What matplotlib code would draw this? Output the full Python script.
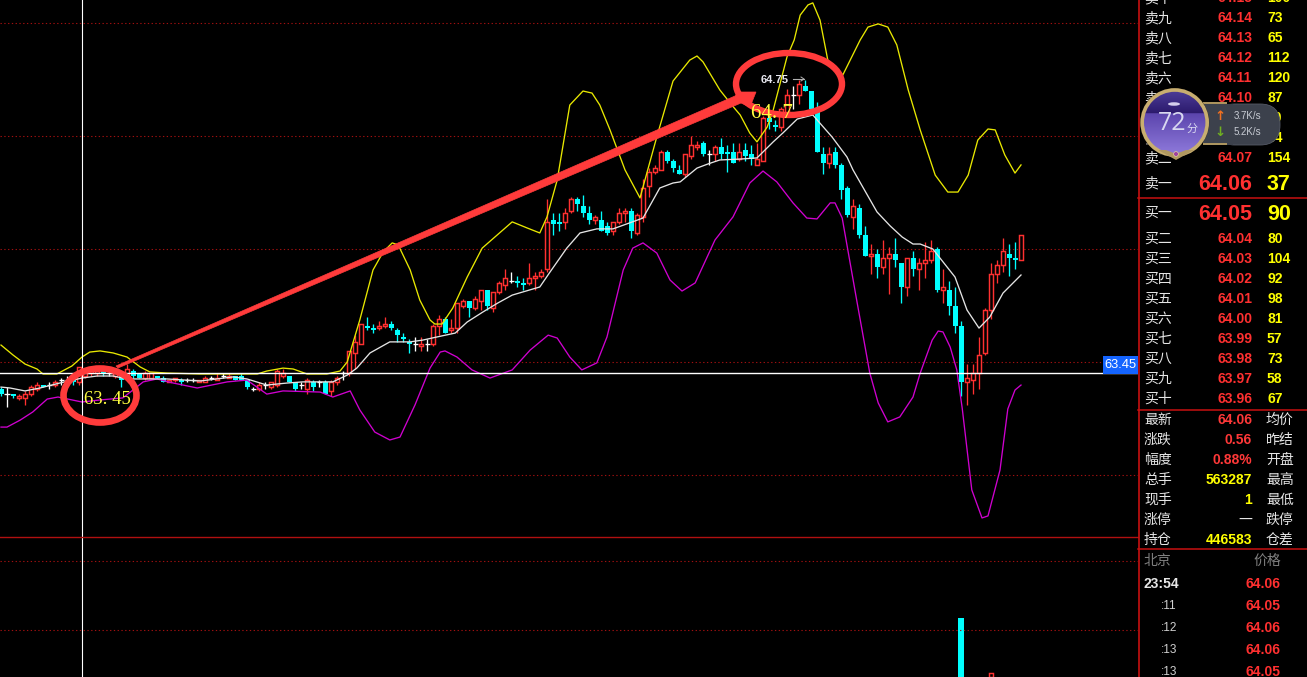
import numpy as np
import matplotlib
matplotlib.use("Agg")
import matplotlib.pyplot as plt
from matplotlib.patches import Ellipse, Polygon, FancyBboxPatch, Circle, Rectangle

opens = [63.38,63.36,63.36,63.34,63.34,63.36,63.38,63.40,63.40,63.40,
 63.42,63.42,63.43,63.41,63.44,63.45,63.45,63.46,63.45,63.44,
 63.44,63.44,63.46,63.45,63.43,63.43,63.44,63.43,63.41,63.42,
 63.42,63.42,63.42,63.41,63.41,63.43,63.42,63.44,63.43,63.44,
 63.44,63.42,63.38,63.38,63.40,63.39,63.40,63.44,63.44,63.41,
 63.40,63.38,63.41,63.41,63.41,63.37,63.41,63.45,63.45,63.54,
 63.58,63.66,63.65,63.65,63.66,63.67,63.64,63.61,63.59,63.58,
 63.57,63.58,63.58,63.66,63.69,63.64,63.65,63.75,63.77,63.74,
 63.77,63.82,63.74,63.81,63.84,63.86,63.86,63.85,63.85,63.87,
 63.88,63.91,64.13,64.12,64.12,64.17,64.22,64.19,64.16,64.13,
 64.13,64.10,64.08,64.12,64.16,64.17,64.07,64.14,64.28,64.34,
 64.35,64.43,64.39,64.35,64.33,64.41,64.45,64.47,64.42,64.42,
 64.45,64.43,64.43,64.40,64.44,64.42,64.37,64.39,64.58,64.55,
 64.54,64.60,64.68,64.68,64.72,64.70,64.62,64.42,64.38,64.43,
 64.37,64.27,64.14,64.18,64.06,63.97,63.98,63.92,63.96,63.98,
 63.94,63.83,63.96,63.91,63.94,63.95,64.00,63.82,63.82,63.75,
 63.66,63.41,63.42,63.45,63.54,63.73,63.89,63.93,63.98,63.96,63.95]
highs = [63.39,63.39,63.36,63.36,63.37,63.40,63.41,63.40,63.41,63.42,
 63.43,63.44,63.44,63.48,63.47,63.47,63.47,63.47,63.46,63.46,
 63.45,63.49,63.47,63.45,63.46,63.45,63.44,63.44,63.42,63.43,
 63.43,63.43,63.43,63.42,63.44,63.44,63.45,63.45,63.45,63.44,
 63.45,63.42,63.39,63.41,63.41,63.41,63.47,63.47,63.44,63.41,
 63.41,63.43,63.42,63.42,63.42,63.42,63.44,63.46,63.55,63.62,
 63.67,63.70,63.67,63.68,63.70,63.68,63.65,63.63,63.60,63.61,
 63.61,63.60,63.67,63.71,63.70,63.69,63.76,63.78,63.77,63.79,
 63.82,63.82,63.81,63.86,63.91,63.90,63.88,63.87,63.94,63.90,
 63.91,64.22,64.16,64.16,64.18,64.23,64.23,64.24,64.19,64.15,
 64.17,64.12,64.12,64.18,64.18,64.18,64.16,64.31,64.36,64.37,
 64.44,64.44,64.40,64.37,64.42,64.50,64.48,64.48,64.44,64.46,
 64.49,64.46,64.47,64.47,64.47,64.46,64.47,64.59,64.60,64.57,
 64.63,64.71,64.72,64.75,64.75,64.70,64.65,64.45,64.45,64.45,
 64.38,64.28,64.22,64.20,64.10,64.02,64.00,64.04,64.01,64.05,
 63.94,63.96,63.99,63.96,64.03,64.04,64.01,63.91,63.86,63.83,
 63.68,63.49,63.49,63.61,63.74,63.94,63.95,64.05,64.02,64.03,64.06]
lows = [63.35,63.30,63.34,63.33,63.31,63.35,63.37,63.39,63.38,63.39,
 63.40,63.41,63.40,63.40,63.43,63.44,63.44,63.44,63.44,63.43,
 63.39,63.44,63.43,63.43,63.42,63.43,63.43,63.41,63.41,63.41,
 63.40,63.41,63.41,63.41,63.41,63.42,63.42,63.43,63.43,63.42,
 63.42,63.38,63.37,63.37,63.38,63.38,63.39,63.43,63.41,63.37,
 63.38,63.36,63.37,63.39,63.36,63.35,63.40,63.42,63.44,63.47,
 63.58,63.64,63.63,63.64,63.65,63.64,63.59,63.59,63.54,63.55,
 63.55,63.55,63.57,63.62,63.63,63.63,63.63,63.74,63.70,63.73,
 63.73,63.73,63.72,63.80,63.82,63.85,63.83,63.82,63.84,63.82,
 63.87,63.90,64.06,64.08,64.09,64.16,64.17,64.14,64.11,64.11,
 64.08,64.06,64.06,64.11,64.12,64.05,64.06,64.12,64.23,64.33,
 64.35,64.38,64.34,64.33,64.32,64.40,64.44,64.41,64.37,64.39,
 64.40,64.34,64.38,64.39,64.39,64.37,64.37,64.39,64.53,64.52,
 64.52,64.60,64.62,64.64,64.70,64.62,64.43,64.33,64.36,64.36,
 64.22,64.14,64.09,64.05,63.97,63.89,63.87,63.89,63.80,63.92,
 63.76,63.79,63.88,63.82,63.87,63.94,63.81,63.76,63.71,63.63,
 63.35,63.31,63.36,63.38,63.53,63.69,63.85,63.90,63.88,63.91,63.95]
closes = [63.36,63.36,63.35,63.35,63.36,63.39,63.40,63.39,63.40,63.41,
 63.42,63.42,63.41,63.48,63.46,63.46,63.46,63.45,63.45,63.45,
 63.42,63.47,63.44,63.43,63.45,63.45,63.43,63.41,63.42,63.43,
 63.41,63.42,63.42,63.42,63.43,63.43,63.43,63.44,63.44,63.42,
 63.42,63.39,63.38,63.40,63.40,63.41,63.46,63.45,63.41,63.38,
 63.40,63.42,63.39,63.41,63.36,63.41,63.43,63.45,63.55,63.59,
 63.67,63.65,63.64,63.66,63.67,63.65,63.62,63.60,63.58,63.58,
 63.58,63.58,63.66,63.69,63.63,63.65,63.76,63.77,63.74,63.78,
 63.82,63.75,63.81,63.85,63.87,63.86,63.85,63.84,63.87,63.88,
 63.90,64.12,64.11,64.11,64.16,64.22,64.20,64.16,64.13,64.14,
 64.08,64.07,64.12,64.16,64.17,64.08,64.15,64.27,64.34,64.36,
 64.43,64.39,64.36,64.33,64.42,64.46,64.46,64.42,64.42,64.45,
 64.42,64.42,64.38,64.43,64.41,64.40,64.40,64.58,64.56,64.54,
 64.62,64.68,64.68,64.73,64.70,64.62,64.43,64.38,64.42,64.37,
 64.26,64.15,64.19,64.06,63.97,63.98,63.92,63.96,63.98,63.95,
 63.83,63.96,63.91,63.94,63.95,63.99,63.82,63.83,63.75,63.66,
 63.41,63.43,63.45,63.53,63.73,63.89,63.93,63.99,63.96,63.95,64.06]

upper_idx = [0,2,4,6,7,9.3,11.8,13.5,14.8,16.5,18.7,21,23.2,24.8,27.7,33.2,42.7,44.3,47,48.7,51,54.3,56.5,57.7,
 59.8,62,63.7,65.2,66.2,68.2,69.8,71.5,72.3,73.5,75.3,77.7,80.2,82.7,85.2,87.7,89.8,91,92.7,94.8,97,98.5,99.8,
 101.5,104,106.5,109.3,112,114.8,116,117,119.8,121.8,123.2,124.8,126,127.7,128.7,131,132.2,133.2,134.5,135.3,
 136.5,137.8,140.3,143.2,144.5,146.2,147.8,149.3,151.2,153.2,155.7,157.8,159.5,161.2,162.8,164.5,165.7,167.3,169,170]
upper_val = [63.575,63.531,63.491,63.469,63.447,63.447,63.482,63.522,63.544,63.549,63.540,63.522,63.478,63.456,63.451,63.447,63.447,63.460,63.473,63.469,63.447,63.447,63.460,63.50,
 63.686,63.907,63.987,64.027,64.018,63.907,63.774,63.686,63.668,63.668,63.739,63.876,64.004,64.062,64.120,64.093,64.071,64.142,64.305,64.637,64.699,64.690,64.637,
 64.527,64.350,64.226,64.496,64.743,64.836,64.854,64.828,64.704,64.637,64.593,64.513,64.474,64.540,64.615,64.850,64.925,65.035,65.080,65.089,
 65.013,64.836,64.770,64.925,64.982,64.996,64.982,64.903,64.704,64.527,64.327,64.252,64.252,64.327,64.482,64.531,64.527,64.416,64.336,64.372]

mid_idx = [0,1.5,4,6.5,9.8,13.5,16,18.7,21,27.7,33.2,38.7,41,44.3,47.7,50.3,55.3,57.7,59.3,61.5,64.8,68.2,70.3,72.7,75.7,77.7,80.3,82.8,85.2,89.8,91.5,94.3,96.5,99.3,102,104.3,107,109.8,112,113.2,116,117.8,119.8,123.2,126,128.7,130.3,132.7,135.3,138.5,141,142,146,148.2,150.2,152,153.2,155.3,159,161,163,164.8,167,170]
mid_val = [63.389,63.385,63.372,63.385,63.407,63.429,63.438,63.438,63.425,63.425,63.416,63.434,63.425,63.398,63.407,63.412,63.412,63.442,63.473,63.540,63.589,63.589,63.597,63.611,63.628,63.677,63.721,63.761,63.796,63.832,63.898,64.004,64.071,64.089,64.089,64.111,64.137,64.270,64.292,64.297,64.358,64.376,64.394,64.398,64.403,64.474,64.513,64.575,64.593,64.496,64.407,64.350,64.164,64.102,64.053,64.022,64.022,64.000,63.876,63.730,63.650,63.699,63.805,63.885]

lower_idx = [0,1,3.2,5.3,7.7,9.5,13.5,16.5,20.3,22,23.7,26,28.7,32.7,37.7,41,44.3,47,53.2,55.3,58.2,59.8,62.3,64.8,66.5,69,71.5,73.2,74,76,78.5,81.5,85.2,88.2,91.2,92.7,94.8,96.8,99.3,101,103.7,105.3,107,109.3,111.5,113.5,115.7,119,122,124.8,127,129.3,132,134.3,136,138.2,139,140.2,142.7,144.8,146.2,147.8,149.8,152,153.2,155.2,156.2,157,158.2,159.3,160.2,161.8,163.5,164.5,166.5,167.8,169,170]
lower_val = [63.212,63.212,63.243,63.279,63.336,63.345,63.323,63.332,63.341,63.376,63.412,63.425,63.407,63.385,63.412,63.420,63.358,63.372,63.367,63.345,63.372,63.288,63.190,63.155,63.168,63.310,63.473,63.544,63.549,63.522,63.465,63.429,63.465,63.553,63.619,63.606,63.522,63.465,63.496,63.611,63.907,64.004,64.027,63.982,63.863,63.814,63.850,64.040,64.142,64.292,64.345,64.297,64.204,64.137,64.133,64.204,64.204,64.137,63.761,63.451,63.319,63.235,63.257,63.345,63.451,63.597,63.637,63.633,63.566,63.465,63.296,62.934,62.810,62.819,63.022,63.292,63.376,63.398]

grid_prices = [65.0, 64.5, 64.0, 63.5, 63.0]
last_price = 63.45
cross_idx = 13.5
vol_idx = [160, 165]
vol_val = [5900, 400]
vol_up = [False, True]
vol_grid = [11600, 4700]

sell_labels = ["卖十","卖九","卖八","卖七","卖六","卖五","卖四","卖三","卖二"]
sell_prices = ["64.15","64.14","64.13","64.12","64.11","64.10","64.09","64.08","64.07"]
sell_vols = ["100","73","65","112","120","87","50","94","154"]
buy_labels = ["买二","买三","买四","买五","买六","买七","买八","买九","买十"]
buy_prices = ["64.04","64.03","64.02","64.01","64.00","63.99","63.98","63.97","63.96"]
buy_vols = ["80","104","92","98","81","57","73","58","67"]
stat_labels = ["最新","涨跌","幅度","总手","现手","涨停","持仓"]
stat_values = ["64.06","0.56","0.88%","563287","1","一","446583"]
stat_colors = ["#FF3838","#FF3838","#FF3838","#FFFF00","#FFFF00","#E6E6E6","#FFFF00"]
stat_right = ["均价","昨结","开盘","最高","最低","跌停","仓差"]
tick_times = ["23:54",":11",":12",":13",":13"]
tick_prices = ["64.06","64.05","64.06","64.06","64.05"]

RED, CYAN, BG = "#FF3030", "#00FFFF", "#000000"
GRID = "#A01010"
W, H = 1307, 677
CJK = ["Noto Sans CJK SC", "DejaVu Sans"]
NUM = "Liberation Sans"

fig = plt.figure(figsize=(W/100, H/100), dpi=100, facecolor=BG)

# price panel: 226 px per price unit, 63.50 at pixel row 362, one candle every 6 px
ax = fig.add_axes([0, 0, 1138/W, 1], facecolor=BG, zorder=1)
ax.set_xlim(-1/6, 1137/6)
ax.set_ylim(63.5 - 315/226, 63.5 + 362/226)
ax.axis("off")

o, h, l, c = map(np.array, (opens, highs, lows, closes))
idx = np.arange(len(o))
up, down, flat = c > o, c < o, c == o
for p in grid_prices:
    ax.axhline(p, color=GRID, lw=0.8, ls=(0, (1.2, 2.2)), zorder=1)

lw1 = 0.95
ax.vlines(idx[up], l[up], h[up], color=RED, lw=lw1, zorder=2)
ax.vlines(idx[down], l[down], h[down], color=CYAN, lw=lw1, zorder=2)
ax.vlines(idx[flat], l[flat], h[flat], color="white", lw=lw1, zorder=2)
ax.hlines(c[flat], idx[flat]-2.5/6, idx[flat]+2.5/6, color="white", lw=lw1, zorder=2)
ax.bar(idx[up], (c-o)[up], bottom=o[up], width=4/6, facecolor=BG, edgecolor=RED, linewidth=1.05, zorder=3)
ax.bar(idx[down], (c-o)[down], bottom=o[down], width=5/6, facecolor=CYAN, edgecolor="none", linewidth=0, zorder=3)

ax.plot(upper_idx, upper_val, color="#E8E800", lw=0.95, zorder=4)
ax.plot(lower_idx, lower_val, color="#D000D0", lw=0.95, zorder=4)
ax.plot(mid_idx, mid_val, color="#E4E4E4", lw=0.95, zorder=4)
ax.axhline(last_price, color="white", lw=1.0, zorder=5)
ax.axvline(cross_idx, color="white", lw=0.8, zorder=5)

# volume panel, bottom strip of the chart
vax = fig.add_axes([0, 0, 1138/W, 140/H], facecolor="none", zorder=1.5)
vax.set_xlim(-1/6, 1137/6)
vax.set_ylim(0, 14000)
vax.axis("off")
for v in vol_grid:
    vax.axhline(v, color=GRID, lw=0.8, ls=(0, (1.2, 2.2)))
for i, v, u in zip(vol_idx, vol_val, vol_up):
    if u:
        vax.bar(i, v, width=4/6, facecolor=BG, edgecolor=RED, linewidth=1.05)
    else:
        vax.bar(i, v, width=5/6, facecolor=CYAN, edgecolor="none", linewidth=0)

# overlay in pixel coordinates: annotations, frame lines and quote panel
ui = fig.add_axes([0, 0, 1, 1], facecolor="none", zorder=3)
ui.set_xlim(0, W)
ui.set_ylim(H, 0)
ui.axis("off")

ui.plot([0, 1138], [537, 537], color="#B01010", lw=1.0)
ui.plot([1138.5, 1138.5], [0, H], color="#C81010", lw=1.2)
for y in (198, 410, 549):
    ui.plot([1138, W], [y, y], color="#C81010", lw=1.1)

ui.add_patch(Polygon([(116,366),(735,96),(738,92),(756,92),(750,107),(741,103),(118,368)], closed=True,
                     facecolor="#FF3B3B", edgecolor="#FF3B3B", lw=0.5, zorder=6))
ui.add_patch(Ellipse((100,395.5), 73, 54, fill=False, edgecolor="#FF3B3B", lw=4.8, zorder=6))
ui.add_patch(Ellipse((789,84), 106, 62, fill=False, edgecolor="#FF3B3B", lw=4.6, zorder=6))
ui.text(84, 399, "63. 45", family="Liberation Serif", fontsize=13.5, color="#FFFF40", va="center", ha="left", zorder=7)
ui.text(751, 114, "64. 7", family="Liberation Serif", fontsize=15, color="#FFFF40", va="center", ha="left", zorder=7)
ui.text(761, 80, "64.75", family=NUM, fontweight="bold", fontsize=8, color="#E8E8F0", va="center", ha="left", zorder=7)
ui.plot([793, 804], [79, 79], color="#B0B0B0", lw=0.8, zorder=7)
ui.plot([801, 804, 801], [77, 79, 81], color="#B0B0B0", lw=0.7, zorder=7)

# blue last-price tag
ui.add_patch(Rectangle((1103, 356), 35, 18, facecolor="#1464FF", edgecolor="none", zorder=7))
ui.text(1120.5, 365.5, "63.45", family=NUM, fontsize=9.3, color="white", ha="center", va="center", zorder=8)

# quote panel
def label(x, y, s, color="#E6E6E6", size=10):
    ui.text(x, y, s, family=CJK, fontsize=size, color=color, ha="left", va="center", zorder=4)
def num(x, y, s, color, size=10, ha="right"):
    ui.text(x, y, s, family=NUM, fontweight="bold", fontsize=size, color=color, ha=ha, va="center", zorder=4)

sell_rows = [-2, 18, 38, 58, 78, 98, 118, 138, 158]
for y, a, b, d in zip(sell_rows, sell_labels, sell_prices, sell_vols):
    label(1144, y, a); num(1252, y, b, RED); num(1267, y, d, "#FFFF00", ha="left")
label(1144, 183, "卖一"); num(1252, 184, "64.06", RED, 15.5); num(1267, 184, "37", "#FFFF00", 15.5, "left")
label(1144, 213, "买一"); num(1252, 214, "64.05", RED, 15.5); num(1267, 214, "90", "#FFFF00", 15.5, "left")
buy_rows = [239, 259, 279, 299, 319, 339, 359, 379, 399]
for y, a, b, d in zip(buy_rows, buy_labels, buy_prices, buy_vols):
    label(1144, y, a); num(1252, y, b, RED); num(1267, y, d, "#FFFF00", ha="left")
stat_rows = [420, 440, 460, 480, 500, 520, 540]
for y, a, b, col, d in zip(stat_rows, stat_labels, stat_values, stat_colors, stat_right):
    label(1144, y, a); label(1266, y, d)
    if b == "一":
        ui.text(1252, y, b, family=CJK, fontsize=10, color=col, ha="right", va="center", zorder=4)
    else:
        num(1252, y, b, col)
label(1144, 561, "北京", "#808080"); label(1253, 561, "价格", "#808080")
tick_rows = [584, 606, 628, 650, 672]
for k, (y, t, p) in enumerate(zip(tick_rows, tick_times, tick_prices)):
    if k == 0:
        num(1144, y, t, "#E6E6E6", 10, "left")
    else:
        ui.text(1161, y, t, family=NUM, fontsize=8.5, color="#D0D0D0", ha="left", va="center", zorder=4)
    num(1281, y, p, RED)

# score badge
ui.add_patch(FancyBboxPatch((1215, 104), 65, 41, boxstyle="round,pad=0,rounding_size=20",
                            facecolor="#3C414C", edgecolor="#555A66", lw=0.6, zorder=9))
ui.add_patch(Rectangle((1203, 104), 30, 41, facecolor="#3C414C", edgecolor="none", zorder=9))
for yy in (103, 144):
    ui.plot([1204, 1226], [yy, yy], color="#B09860", lw=1.4, zorder=9.5)
ui.text(1220, 116, "↑", family="DejaVu Sans", fontweight="bold", fontsize=9.5, color="#F07020", ha="center", va="center", zorder=10)
ui.text(1220, 132, "↓", family="DejaVu Sans", fontweight="bold", fontsize=9.5, color="#70B020", ha="center", va="center", zorder=10)
ui.text(1234, 116, "3.7K/s", family=NUM, fontsize=7, color="#C8CCD4", ha="left", va="center", zorder=10)
ui.text(1234, 132, "5.2K/s", family=NUM, fontsize=7, color="#C8CCD4", ha="left", va="center", zorder=10)

ui.add_patch(Circle((1174.7, 122.5), 34.5, facecolor="#2A2416", edgecolor="none", zorder=11))
ui.add_patch(Circle((1174.7, 122.5), 32.5, facecolor="none", edgecolor="#C8AE70", lw=2.6, zorder=13))
grad = np.zeros((70, 1, 3))
t = np.linspace(0, 1, 70)
top_a, top_b = np.array([0.30, 0.24, 0.60]), np.array([0.17, 0.10, 0.42])
low_a, low_b = np.array([0.36, 0.27, 0.68]), np.array([0.56, 0.48, 0.86])
for n in range(70):
    if t[n] < 0.36:
        grad[n, 0] = top_a*(1-t[n]/0.36) + top_b*(t[n]/0.36)
    else:
        s = (t[n]-0.36)/0.64
        grad[n, 0] = low_a*(1-s) + low_b*s
im = ui.imshow(grad, extent=(1143, 1207, 155, 90), aspect="auto", zorder=12, interpolation="bilinear")
im.set_clip_path(Circle((1174.7, 122.5), 31.5, transform=ui.transData))
ui.set_xlim(0, W); ui.set_ylim(H, 0)
ui.add_patch(Ellipse((1174, 104), 12, 3.5, facecolor="#F0ECFF", edgecolor="none", alpha=0.85, zorder=13))
ui.text(1172, 123, "72", family="Open Sans", fontsize=18, color="#D8D8F0", ha="center", va="center", zorder=14)
ui.text(1192, 129, "分", family=CJK, fontsize=8, color="#D8D8F0", ha="center", va="center", zorder=14)
ui.add_patch(Polygon([(1158,150),(1176,160),(1194,150),(1186,150),(1176,154),(1166,150)], closed=True,
                     facecolor="#B09860", edgecolor="none", zorder=14))
ui.add_patch(Circle((1176, 154), 2.4, facecolor="#A040A0", edgecolor="#E0D0A0", lw=0.5, zorder=15))

fig.savefig("out.png", dpi=100, facecolor=BG)
